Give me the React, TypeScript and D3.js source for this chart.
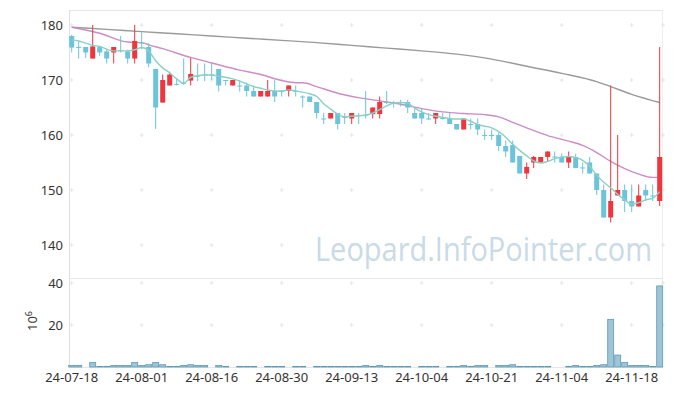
import React from "react";
import * as d3 from "d3";

// Daily candles 24-07-18 .. 24-11-22 (prices in thousands)
const open = [178, 176, 176, 173.9, 176, 175.2, 175, 175.4, 175.2, 173.9, 176.8, 176, 172, 165.9, 169, 169.3, 169.5, 169.9, 170.8, 171, 171,
  172, 170, 169, 169, 169, 168, 167, 167, 168, 168, 168, 168, 167, 167, 166, 163, 163, 164, 163.3, 163, 163.6,
  163.7, 163.8, 163.8, 166, 165.9, 166, 166, 164, 164, 163, 163, 163.1, 163, 162, 161, 162, 162, 160, 160, 160, 158,
  158.2, 156.2, 153, 155, 155, 156, 156.1, 156, 155, 156, 154.1, 155, 153, 150, 145, 149, 150, 148, 147, 150, 149, 148];
const high = [178.2, 177, 176, 180, 176, 175.5, 176, 178, 175.5, 180, 178.7, 176.7, 172, 171, 171.5, 170.3, 173.9, 174, 173, 173, 173.2,
  172, 170, 170, 170, 169.5, 169, 168, 170, 170, 168.2, 169, 169, 167.2, 167, 166, 164, 164, 164, 164, 164, 164,
  168, 165, 167, 168, 166.2, 166.4, 166.4, 164.8, 164.8, 164, 164, 164, 164, 162, 163, 163, 163, 161, 161, 160.5, 159,
  159, 156.2, 155, 156.2, 156, 157, 157, 156.6, 157, 156.6, 155, 156, 153, 151, 169, 160, 151, 151, 151, 151, 151, 176];
const low = [175, 173.9, 174, 173.9, 174.4, 173, 173, 175, 173, 173, 175.6, 172.3, 161.1, 165.9, 169, 169, 169.1, 169, 169.8, 169.8, 170,
  167.9, 169, 169, 167.9, 167, 167, 167, 167, 166, 167, 167, 167, 165, 166, 163, 162, 163, 161, 162, 162, 162,
  163, 163, 163, 165.6, 165, 165.2, 164, 163, 162, 162.8, 162, 162.8, 162, 161, 161, 161, 160, 159.1, 159.1, 157.1, 156,
  155, 153, 152, 154, 155, 155.1, 155, 155, 154, 154, 153, 153, 149.1, 145, 144.1, 149, 146, 146, 147, 148, 148, 147.1];
const close = [175.9, 176, 175, 176.1, 175, 173.9, 176, 175.4, 173.9, 177.1, 176.8, 173, 165, 170, 171, 169.3, 169.5, 171.1, 170.8, 171, 171,
  169, 170, 170, 169, 168, 167, 168, 168, 167, 168, 169, 168, 167, 166, 164, 163, 164, 162, 163.3, 164, 163.6,
  163.7, 165, 166, 166, 165.9, 166, 165, 163, 163, 163, 164, 163.1, 162, 161, 163, 162, 161, 160, 160, 158, 157,
  155, 153, 154.2, 156, 156, 157, 156.1, 155, 156, 154, 154.1, 153, 150, 145, 148, 150, 148, 147, 149, 149, 149, 156];
// Volume (10^6 shares)
const volume = [0.7, 0.7, 0.1, 2.1, 0.3, 0.3, 0.7, 0.7, 0.7, 2.1, 0.7, 1.1, 2.1, 1.1, 0.3, 0.3, 0.7, 1.1, 0.7, 0.7, 0.1,
  0.7, 0.3, 0.1, 0.3, 0.3, 0.3, 0.1, 0.3, 0.3, 0.3, 0.1, 0.3, 0.3, 0.1, 0.3, 0.3, 0.3, 0.3, 0.3, 0.3, 0.3,
  0.7, 0.3, 0.7, 0.3, 0.3, 0.3, 0.3, 0.1, 0.3, 0.3, 0.3, 0.1, 0.3, 0.3, 0.7, 0.3, 0.7, 0.7, 0.1, 0.7, 0.7,
  1.1, 0.3, 0.3, 0.3, 0.3, 0.3, 0.1, 0.1, 0.3, 0.7, 0.3, 0.3, 0.7, 1.1, 22.7, 5.7, 2.1, 0.7, 0.7, 0.7, 0.3, 38.6];
// Moving averages
const ma5 = [177.3, 177.1, 176.7, 176.3, 176.1, 175.6, 175.3, 175.3, 175.3, 175.5, 175.9, 175.3, 173.5, 172.2, 171.3, 170.2, 169.4, 170.5, 170.8, 170.9, 170.9,
  170.7, 170.5, 170.2, 169.8, 169.3, 168.8, 168.5, 168.2, 168.0, 168.0, 168.2, 168.0, 167.8, 167.5, 167.0, 165.7, 164.7, 163.8, 163.3, 163.4, 163.5,
  163.6, 164.0, 164.6, 165.3, 165.8, 165.9, 165.8, 164.9, 164.2, 163.7, 163.4, 163.2, 163.0, 162.9, 162.9, 162.5, 161.9, 161.6, 161.3, 160.6, 159.6,
  158.3, 157.2, 156.2, 155.3, 154.9, 155.2, 155.7, 156.0, 156.1, 155.9, 155.4, 154.3, 152.7, 151.4, 150.4, 149.2, 148.2, 147.4, 147.7, 148.2, 148.5, 149.7];
const ma20Idx = [0, 4, 8, 10, 11, 13, 17, 20, 24, 27, 30, 32, 33, 35, 38, 41, 44, 47, 50, 53, 56, 59, 61, 63, 65, 68, 71, 73, 75, 77, 79, 81, 83, 84];
const ma20Val = [179.6, 178.5, 176.9, 176.8, 176.4, 175.7, 174.1, 173.1, 171.8, 171.0, 169.9, 169.5, 169.5, 168.8, 167.6, 166.8, 166.2, 165.6, 164.8, 164.2, 163.9, 163.7, 163.3, 162.3, 161.3, 159.9, 158.9, 158.1, 156.8, 155.2, 153.9, 152.9, 152.3, 152.3];
const ma120Idx = [0, 5, 10, 15, 20, 25, 30, 35, 40, 45, 50, 55, 60, 62, 65, 70, 75, 77, 80, 84];
const ma120Val = [179.6, 179.2, 178.8, 178.4, 178.0, 177.6, 177.2, 176.8, 176.3, 175.8, 175.3, 174.7, 173.8, 173.3, 172.5, 171.2, 169.7, 168.8, 167.4, 165.9];

const priceTicks = [140, 150, 160, 170, 180];
const volTicks = [20, 40];
const dateTickIdx = [0, 10, 20, 30, 40, 50, 60, 70, 80];
const dateTickLabels = ["24-07-18", "24-08-01", "24-08-16", "24-08-30", "24-09-13", "24-10-04", "24-10-21", "24-11-04", "24-11-18"];

const UP = "#ee363c";
const DOWN = "#6cc3da";
const FONT = "'Noto Sans', 'DejaVu Sans', sans-serif";

export default function App() {
  const n = close.length;
  const left = 69, right = 663, top = 10, mid = 278, bottom = 367;
  const x = d3.scaleBand<number>().domain(d3.range(n)).range([68.2, 663.2]).padding(0);
  const bw = x.bandwidth();
  const cx = (i: number) => (x(i) as number) + bw / 2;
  const y = d3.scaleLinear().domain([140, 180]).range([245, 25]);
  const yv = d3.scaleLinear().domain([0, 40]).range([bottom, 283]);

  const lineIdx = d3.line<number>().x((_, k) => cx(k)).y((v) => y(v)).curve(d3.curveMonotoneX);
  const lineSparse = (idx: number[], vals: number[]) =>
    d3.line<number>().x((_, k) => cx(idx[k])).y((v) => y(v)).curve(d3.curveMonotoneX)(vals) || "";

  const crossXs = [...dateTickIdx.map(cx), right];
  const crossYsPrice = priceTicks.map(y);
  const crossYsVol = volTicks.map(yv);
  const crosses: [number, number][] = [];
  crossXs.forEach((cxv) => [...crossYsPrice, ...crossYsVol].forEach((cyv) => crosses.push([cxv, cyv])));

  return (
    <svg width={673} height={396} style={{ position: "absolute", left: 0, top: 0, background: "#fff" }} fontFamily={FONT}>
      <defs>
        <clipPath id="plotClip"><rect x={left} y={top} width={right - left} height={mid - top} /></clipPath>
      </defs>
      {/* frame */}
      <line x1={left} x2={right} y1={top + 0.5} y2={top + 0.5} stroke="#e6e6e6" />
      <line x1={left} x2={right} y1={mid + 0.5} y2={mid + 0.5} stroke="#e6e6e6" />
      <line x1={left} x2={right} y1={bottom + 0.5} y2={bottom + 0.5} stroke="#e6e6e6" />
      <line x1={left + 0.5} x2={left + 0.5} y1={top} y2={bottom} stroke="#e0e0e0" />
      <line x1={right - 0.5} x2={right - 0.5} y1={top} y2={bottom} stroke="#eeeeee" />
      {/* grid crosses */}
      {crosses.map(([a, b], k) => (
        <g key={k} stroke="#e6e6e6" strokeWidth={1}>
          <line x1={a - 2} x2={a + 2} y1={b} y2={b} />
          <line x1={a} x2={a} y1={b - 2} y2={b + 2} />
        </g>
      ))}
      {/* watermark */}
      <text x={315} y={261} fontSize={33} fill="#c8dbe6" textLength={337} lengthAdjust="spacingAndGlyphs" fontFamily="'Open Sans', 'Noto Sans', sans-serif">
        Leopard.InfoPointer.com
      </text>
      {/* MA lines */}
      <g clipPath="url(#plotClip)" fill="none">
        <path d={lineSparse(ma120Idx, ma120Val)} stroke="#9a9a9a" strokeWidth={1.4} />
        <path d={lineSparse(ma20Idx, ma20Val)} stroke="#cc8cc6" strokeWidth={1.4} />
      </g>
      {/* candles */}
      <g clipPath="url(#plotClip)">
        {close.map((c, i) => {
          const o = open[i];
          const up = c > o;
          const col = up ? UP : DOWN;
          const yt = y(Math.max(o, c));
          const yb = y(Math.min(o, c));
          const h = Math.max(1, yb - yt);
          return (
            <g key={i}>
              <line x1={cx(i)} x2={cx(i)} y1={y(high[i])} y2={y(low[i])} stroke={col} strokeWidth={1} />
              <rect x={cx(i) - 2.5} y={yt} width={5} height={h} fill={col} />
            </g>
          );
        })}
      </g>
      <g clipPath="url(#plotClip)" fill="none">
        <path d={lineIdx(ma5) || ""} stroke="#8ccfc6" strokeWidth={1.4} />
      </g>
      {/* volume */}
      <g>
        {volume.map((v, i) =>
          yv(0) - yv(v) < 0.4 ? null : (
            <rect key={i} x={(x(i) as number) + 0.5} y={yv(v)} width={bw - 1} height={yv(0) - yv(v)}
              fill="#9dc5d6" stroke="#5e9ab6" strokeWidth={0.8} />
          )
        )}
      </g>
      {/* price axis labels */}
      {priceTicks.map((t) => (
        <text key={t} x={63} y={y(t)} dy="0.35em" textAnchor="end" fontSize={13} fill="#333">{t}</text>
      ))}
      {volTicks.map((t) => (
        <text key={t} x={63} y={yv(t)} dy="0.35em" textAnchor="end" fontSize={13} fill="#333">{t}</text>
      ))}
      <text transform="translate(37,321) rotate(-90)" textAnchor="middle" fontSize={13} fill="#333">
        10<tspan dy={-5} fontSize={9}>6</tspan>
      </text>
      {/* date labels */}
      {dateTickIdx.map((idx, k) => (
        <text key={idx} x={cx(idx)} y={382} textAnchor="middle" fontSize={13} fill="#333">{dateTickLabels[k]}</text>
      ))}
    </svg>
  );
}
